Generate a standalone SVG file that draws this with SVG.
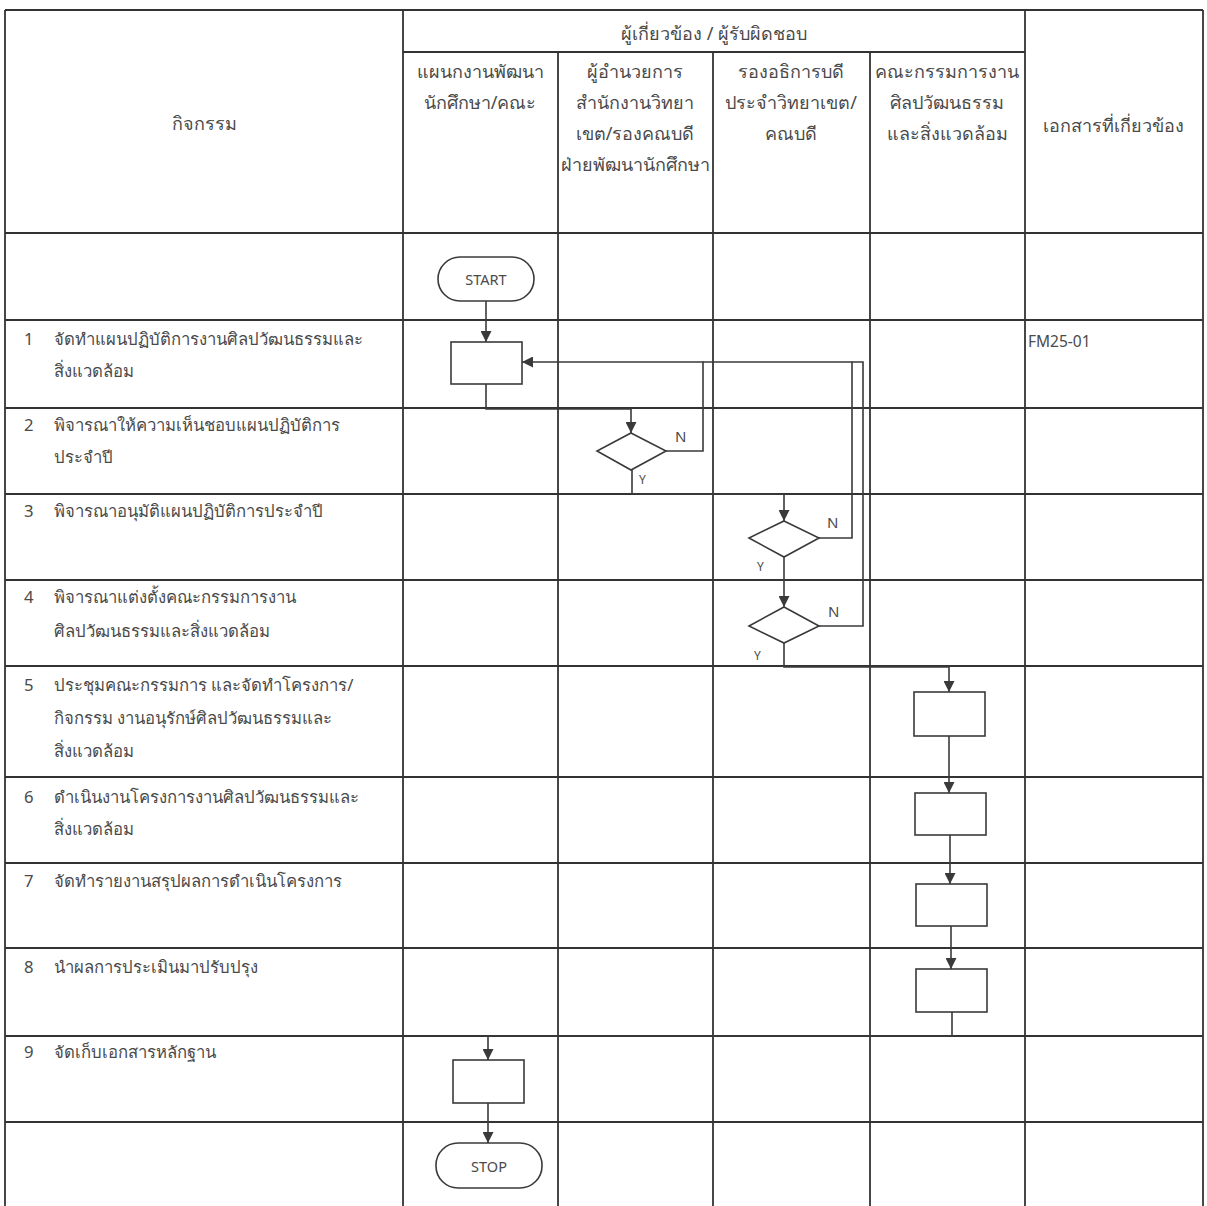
<svg xmlns="http://www.w3.org/2000/svg" width="1207" height="1206" viewBox="0 0 1207 1206">
<style>
text{font-family:"Noto Sans","DejaVu Sans","Liberation Sans",sans-serif;fill:#4a4a4a;font-size:16.7px}
.c{text-anchor:middle}
.h{font-size:18px}
.grid line{stroke:#333;stroke-width:1.8}
.shape{fill:#fff;stroke:#3a3a3a;stroke-width:1.6}
.conn path{fill:none;stroke:#3a3a3a;stroke-width:1.6}
.lbl{font-size:15px}
.sm{font-size:12px}
.term{font-size:14.5px}
.doc{font-size:15.5px}
</style>
<defs>
<marker id="ah" viewBox="0 0 10 10" refX="10" refY="5" markerWidth="11" markerHeight="11" markerUnits="userSpaceOnUse" orient="auto">
<path d="M0,0 L10,5 L0,10 z" fill="#3a3a3a"/>
</marker>
</defs>
<rect width="1207" height="1206" fill="#fff"/>
<g class="grid">
<line x1="5" y1="10" x2="1203" y2="10"/>
<line x1="403" y1="52" x2="1025" y2="52"/>
<line x1="5" y1="233" x2="1203" y2="233"/>
<line x1="5" y1="320" x2="1203" y2="320"/>
<line x1="5" y1="408" x2="1203" y2="408"/>
<line x1="5" y1="494" x2="1203" y2="494"/>
<line x1="5" y1="580" x2="1203" y2="580"/>
<line x1="5" y1="666" x2="1203" y2="666"/>
<line x1="5" y1="777" x2="1203" y2="777"/>
<line x1="5" y1="863" x2="1203" y2="863"/>
<line x1="5" y1="948" x2="1203" y2="948"/>
<line x1="5" y1="1036" x2="1203" y2="1036"/>
<line x1="5" y1="1122" x2="1203" y2="1122"/>
<line x1="5" y1="10" x2="5" y2="1206"/>
<line x1="403" y1="10" x2="403" y2="1206"/>
<line x1="558" y1="52" x2="558" y2="1206"/>
<line x1="713" y1="52" x2="713" y2="1206"/>
<line x1="870" y1="52" x2="870" y2="1206"/>
<line x1="1025" y1="10" x2="1025" y2="1206"/>
<line x1="1203" y1="10" x2="1203" y2="1206"/>
</g>
<g id="headers">
<text class="c h" x="204" y="130">กิจกรรม</text>
<text class="c h" x="714" y="40">ผู้เกี่ยวข้อง / ผู้รับผิดชอบ</text>
<text class="c h" x="480" y="78">แผนกงานพัฒนา</text>
<text class="c h" x="480" y="109">นักศึกษา/คณะ</text>
<text class="c h" x="635" y="78">ผู้อำนวยการ</text>
<text class="c h" x="635" y="109">สำนักงานวิทยา</text>
<text class="c h" x="635" y="140">เขต/รองคณบดี</text>
<text class="c h" x="635" y="171">ฝ่ายพัฒนานักศึกษา</text>
<text class="c h" x="791" y="78">รองอธิการบดี</text>
<text class="c h" x="791" y="109">ประจำวิทยาเขต/</text>
<text class="c h" x="791" y="140">คณบดี</text>
<text class="c h" x="947" y="78">คณะกรรมการงาน</text>
<text class="c h" x="947" y="109">ศิลปวัฒนธรรม</text>
<text class="c h" x="947" y="140">และสิ่งแวดล้อม</text>
<text class="c h" x="1113" y="132">เอกสารที่เกี่ยวข้อง</text>
</g>
<g id="activities">
<text x="24" y="345">1</text><text x="54" y="345">จัดทำแผนปฏิบัติการงานศิลปวัฒนธรรมและ</text>
<text x="54" y="377">สิ่งแวดล้อม</text>
<text x="24" y="431">2</text><text x="54" y="431">พิจารณาให้ความเห็นชอบแผนปฏิบัติการ</text>
<text x="54" y="463">ประจำปี</text>
<text x="24" y="517">3</text><text x="54" y="517">พิจารณาอนุมัติแผนปฏิบัติการประจำปี</text>
<text x="24" y="603">4</text><text x="54" y="603">พิจารณาแต่งตั้งคณะกรรมการงาน</text>
<text x="54" y="637">ศิลปวัฒนธรรมและสิ่งแวดล้อม</text>
<text x="24" y="691">5</text><text x="54" y="691">ประชุมคณะกรรมการ และจัดทำโครงการ/</text>
<text x="54" y="724">กิจกรรม งานอนุรักษ์ศิลปวัฒนธรรมและ</text>
<text x="54" y="757">สิ่งแวดล้อม</text>
<text x="24" y="803">6</text><text x="54" y="803">ดำเนินงานโครงการงานศิลปวัฒนธรรมและ</text>
<text x="54" y="835">สิ่งแวดล้อม</text>
<text x="24" y="887">7</text><text x="54" y="887">จัดทำรายงานสรุปผลการดำเนินโครงการ</text>
<text x="24" y="973">8</text><text x="54" y="973">นำผลการประเมินมาปรับปรุง</text>
<text x="24" y="1058">9</text><text x="54" y="1058">จัดเก็บเอกสารหลักฐาน</text>
<text class="doc" x="1028" y="347">FM25-01</text>
</g>
<g class="conn" id="connectors">
<path d="M486,301 V342" marker-end="url(#ah)"/>
<path d="M486,384 V409 H631 V433" marker-end="url(#ah)"/>
<path d="M666,451 H703 V362 H522" marker-end="url(#ah)"/>
<path d="M632,470 V494 H784 V521" marker-end="url(#ah)"/>
<path d="M819,538 H852 V362 H703"/>
<path d="M784,557 V607" marker-end="url(#ah)"/>
<path d="M819,626 H863 V362 H852"/>
<path d="M784,643 V667 H949 V692" marker-end="url(#ah)"/>
<path d="M949,736 V793" marker-end="url(#ah)"/>
<path d="M950,835 V884" marker-end="url(#ah)"/>
<path d="M951,926 V969" marker-end="url(#ah)"/>
<path d="M952,1012 V1036 H488 V1060" marker-end="url(#ah)"/>
<path d="M488,1103 V1143" marker-end="url(#ah)"/>
</g>
<g id="labels">
<text class="lbl" x="675" y="442">N</text>
<text class="sm" x="639" y="484">Y</text>
<text class="lbl" x="827" y="528">N</text>
<text class="sm" x="757" y="571">Y</text>
<text class="lbl" x="828" y="617">N</text>
<text class="sm" x="754" y="660">Y</text>
</g>
<g id="start"><rect class="shape" x="438" y="257" width="96" height="44" rx="22"/><text class="c term" x="486" y="285">START</text></g>
<g id="step1"><rect class="shape" x="451" y="342" width="71" height="42"/></g>
<g id="step2"><polygon class="shape" points="631,433 666,451 631,470 597,451"/></g>
<g id="step3"><polygon class="shape" points="784,521 819,538 784,557 749,538"/></g>
<g id="step4"><polygon class="shape" points="784,607 819,626 784,643 749,626"/></g>
<g id="step5"><rect class="shape" x="914" y="692" width="71" height="44"/></g>
<g id="step6"><rect class="shape" x="915" y="793" width="71" height="42"/></g>
<g id="step7"><rect class="shape" x="916" y="884" width="71" height="42"/></g>
<g id="step8"><rect class="shape" x="916" y="969" width="71" height="43"/></g>
<g id="step9"><rect class="shape" x="453" y="1060" width="71" height="43"/></g>
<g id="stop"><rect class="shape" x="436" y="1143" width="106" height="45" rx="22"/><text class="c term" x="489" y="1172">STOP</text></g>
</svg>
